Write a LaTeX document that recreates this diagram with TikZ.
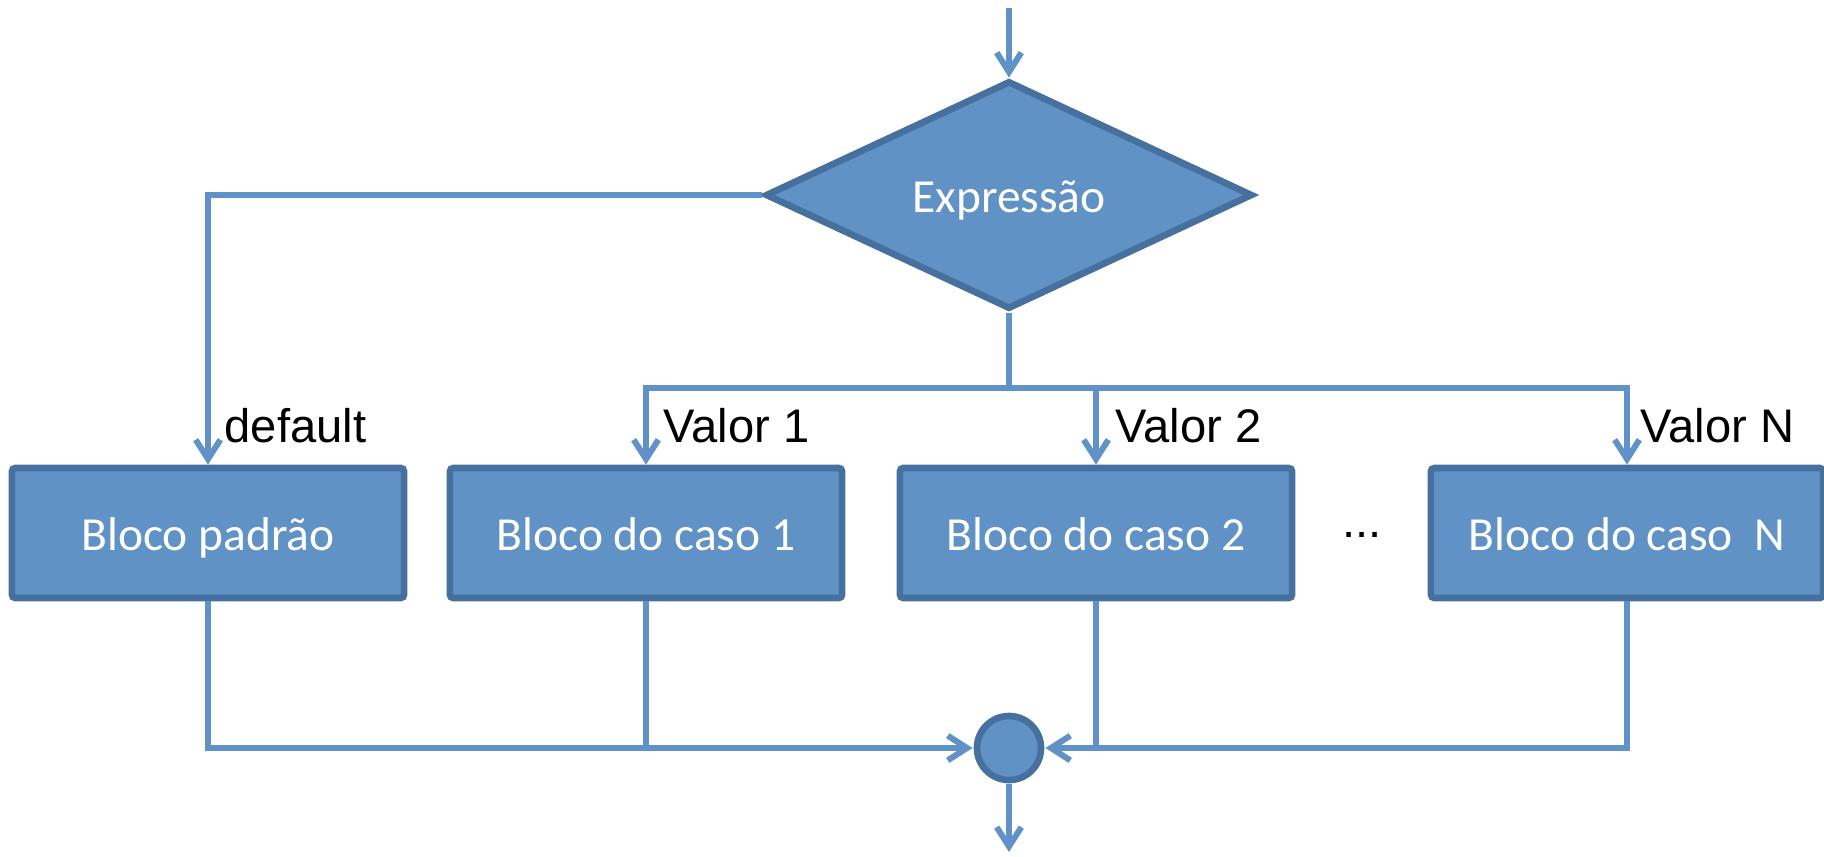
\documentclass[tikz,border=0pt]{standalone}
\usepackage{fontspec}
\setmainfont{Carlito}
\newfontfamily\lblfont{Liberation Sans}
\usetikzlibrary{shapes.geometric,arrows.meta,positioning}

\definecolor{boxfill}{RGB}{96,146,198}
\definecolor{boxline}{RGB}{70,112,158}
\definecolor{wire}{RGB}{96,146,200}

\tikzset{
  blk/.style={draw=boxline,fill=boxfill,line width=1.9pt,rounded corners=1pt,
    minimum width=3.92cm,minimum height=1.3cm,text=white,
    text height=1.0em,text depth=0pt,
    font=\fontsize{13.5}{16}\selectfont},
  cond/.style={diamond,draw=boxline,fill=boxfill,line width=1.9pt,
    minimum width=4.87cm,minimum height=2.25cm,inner sep=0pt,text=white,
    text height=1.0em,text depth=0pt,
    font=\fontsize{13.5}{16}\selectfont},
  wire/.style={draw=wire,line width=1.7pt},
  arr/.style={wire,-{Straight Barb[length=5.5pt,width=7pt,line width=1.7pt]}},
  lbl/.style={anchor=base west,inner sep=0pt,font=\lblfont\fontsize{13.4}{16}\selectfont}
}

\begin{document}
\begin{tikzpicture}[x=0.01cm,y=-0.01cm]
\useasboundingbox (0,0) rectangle (1824,856);

\node[cond] (expr) at (1009,195) {Expressão};
\node[blk] (padrao) at (208,533) {Bloco padrão};
\foreach \x/\t/\n in {646/1/1,1096/2/2,1627/{~N}/N}
  \node[blk] (caso\n) at (\x,533) {Bloco do caso \t};
\node[font=\lblfont\fontsize{13.4}{16}\selectfont] (dots) at (1362,535) {...};
\draw[fill=boxfill,draw=boxline,line width=1.9pt] (1009,748) circle (32) node (join) [circle,minimum size=0.66cm,inner sep=0pt] {};

\coordinate (entry) at (1009,8);
\coordinate (exit) at (1009,852);
\coordinate (split) at (1009,388);

% entrada e saida
\draw[arr] (entry) -- (expr.north);
\draw[arr] (join.south) -- (exit);

% ramos
\draw[arr] (expr.west) -| (padrao.north);
\draw[wire] (expr.south) -- (split);
\foreach \n in {1,2,N}
  \draw[arr] (split) -| (caso\n.north);

% juncao
\draw[arr] (padrao.south) |- (join.west);
\draw[wire] (caso1.south) -- (caso1.south |- join.west);
\draw[arr] (casoN.south) |- (join.east);
\draw[wire] (caso2.south) -- (caso2.south |- join.east);

% rotulos
\node[lbl] (ldef) at (224,442) {default};
\node[lbl] (lv1) at (663,442) {Valor 1};
\node[lbl] (lv2) at (1115,442) {Valor 2};
\node[lbl] (lvN) at (1640,442) {Valor N};
\end{tikzpicture}
\end{document}
